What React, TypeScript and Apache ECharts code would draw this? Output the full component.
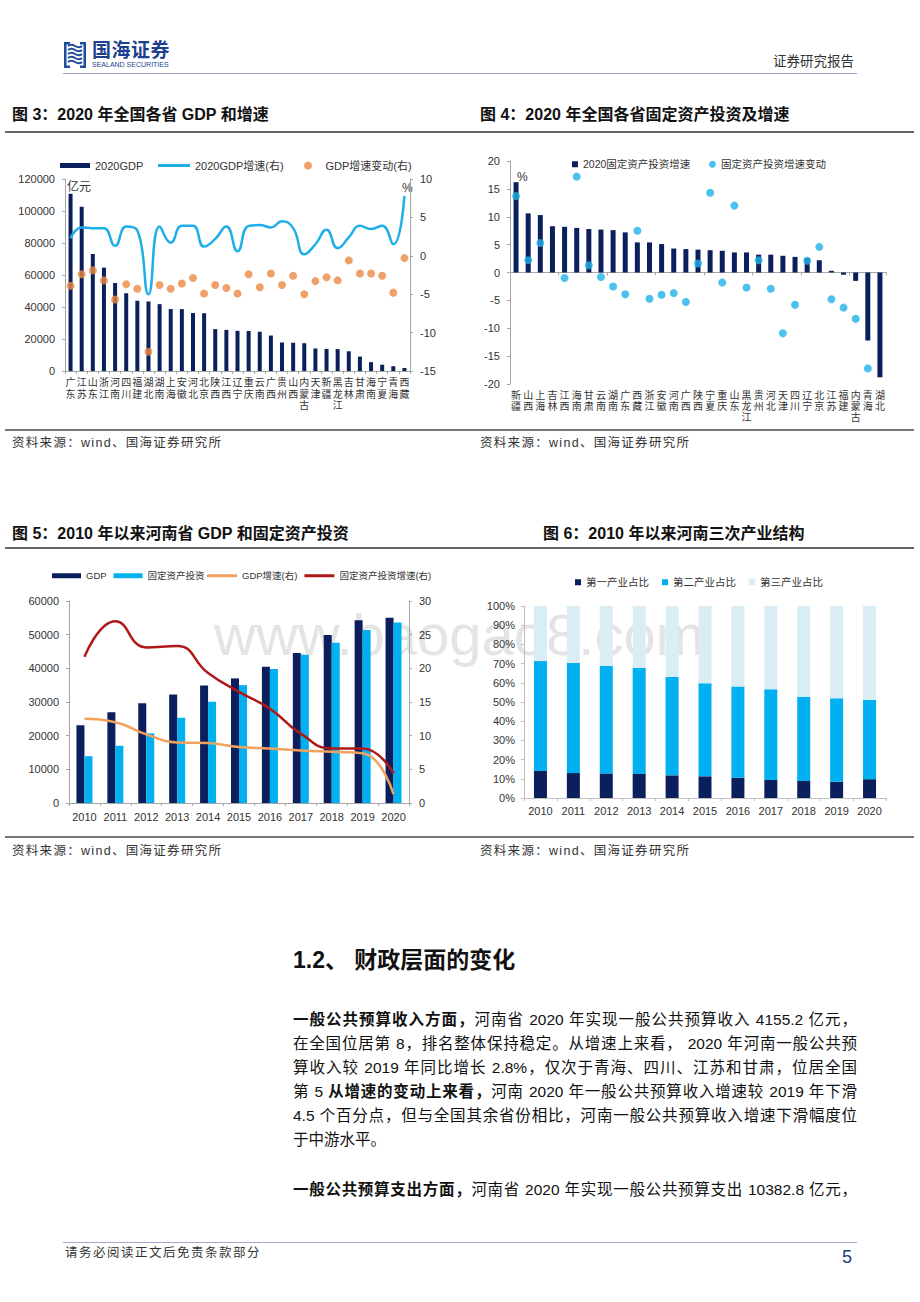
import React, { useEffect, useRef } from "react";
import * as echarts from "echarts";

const FONT = '"Liberation Sans", "Noto Sans CJK SC", sans-serif';
const NAVY = "#0b1f5c";
const AXIS = "#a6a6a6";
const LABEL = "#333333";

// ---------- Fig 3 ----------
const provinces3 = ["广东", "江苏", "山东", "浙江", "河南", "四川", "福建", "湖北", "湖南", "上海", "安徽", "河北", "北京", "陕西", "江西", "辽宁", "重庆", "云南", "广西", "贵州", "山西", "内蒙古", "天津", "新疆", "黑龙江", "吉林", "甘肃", "海南", "宁夏", "青海", "西藏"];
const gdp2020 = [110761, 102719, 73129, 64613, 54997, 48599, 43904, 43443, 41781, 38701, 38681, 36207, 36103, 26182, 25692, 25115, 25003, 24522, 22157, 17827, 17652, 17360, 14084, 13798, 13698, 12311, 9017, 5532, 3921, 3006, 1903];
const gdpGrowth2020 = [2.3, 3.7, 3.6, 3.6, 1.3, 3.8, 3.3, -5.0, 3.8, 1.7, 3.9, 3.9, 1.2, 2.2, 3.8, 0.6, 3.9, 4.0, 3.7, 4.5, 3.6, 0.2, 1.5, 3.4, 1.0, 2.4, 3.9, 3.5, 3.9, 1.5, 7.8];
const gdpGrowthChange = [-3.9, -2.4, -1.9, -3.2, -5.7, -3.7, -4.3, -12.5, -3.8, -4.3, -3.6, -2.9, -4.9, -3.8, -4.2, -4.9, -2.4, -4.1, -2.3, -3.8, -2.6, -5.0, -3.3, -2.8, -3.2, -0.6, -2.3, -2.3, -2.6, -4.8, -0.3];

// ---------- Fig 4 ----------
const provinces4 = ["新疆", "山西", "上海", "吉林", "江西", "海南", "甘肃", "云南", "湖南", "广东", "西藏", "浙江", "安徽", "河南", "广西", "陕西", "宁夏", "重庆", "山东", "黑龙江", "贵州", "河北", "天津", "四川", "辽宁", "北京", "江苏", "福建", "内蒙古", "青海", "湖北"];
const faiGrowth2020 = [16.2, 10.6, 10.3, 8.3, 8.2, 8.0, 7.8, 7.7, 7.6, 7.2, 5.4, 5.4, 5.1, 4.3, 4.2, 4.1, 4.0, 3.9, 3.6, 3.6, 3.2, 3.2, 3.0, 2.8, 2.6, 2.2, 0.3, -0.4, -1.5, -12.2, -18.8];
const faiGrowthChange = [13.7, 2.2, 5.3, null, -1.0, 17.2, 1.3, -0.8, -2.5, -3.9, 7.5, -4.7, -4.0, -3.7, -5.3, 1.6, 14.3, -1.8, 12.0, -2.7, 2.2, -2.9, -10.9, -5.8, 2.1, 4.6, -4.8, -6.3, -8.3, -17.2, null];

// ---------- Fig 5 ----------
const years = ["2010", "2011", "2012", "2013", "2014", "2015", "2016", "2017", "2018", "2019", "2020"];
const henanGdp = [23092, 26931, 29599, 32191, 34938, 37002, 40472, 44553, 49936, 54259, 54997];
const henanFai = [13900, 17000, 20700, 25300, 30100, 35000, 39800, 44000, 47600, 51400, 53600];
const henanGdpGrowth = [12.5, 12.0, 10.2, 9.0, 8.9, 8.3, 8.1, 7.8, 7.6, 7.4, 1.3];
const henanFaiGrowth = [21.7, 27.0, 23.1, 23.3, 19.3, 16.5, 14.0, 10.3, 8.1, 8.1, 4.4];

// ---------- Fig 6 ----------
const primaryShare = [14.1, 13.0, 12.8, 12.5, 11.8, 11.3, 10.6, 9.4, 8.9, 8.5, 9.8];
const secondaryShare = [57.2, 57.3, 56.1, 55.3, 51.2, 48.5, 47.5, 47.3, 43.8, 43.5, 41.3];
const tertiaryShare = primaryShare.map((p, i) => +(100 - p - secondaryShare[i]).toFixed(1));

const vert = (v: string) => v.split("").join("\n");
const plain = (v: number) => String(v);

function EChart({ option, style }: { option: any; style: React.CSSProperties }) {
  const ref = useRef<HTMLDivElement>(null);
  useEffect(() => {
    const chart = echarts.init(ref.current!, null, { renderer: "svg" });
    chart.setOption(option);
    return () => chart.dispose();
  }, []);
  return <div ref={ref} style={{ position: "absolute", zIndex: 1, ...style }} />;
}

const axisLineStyle = { show: true, lineStyle: { color: AXIS, width: 1 } };
const tickStyle = { show: true, length: 3, lineStyle: { color: AXIS } };

const opt3 = {
  animation: false,
  textStyle: { fontFamily: FONT },
  grid: { left: 60, right: 50, top: 39, bottom: 57 },
  legend: [
    { left: 50, top: 15, icon: "rect", itemWidth: 30, itemHeight: 5, data: ["2020GDP"], textStyle: { fontSize: 11, color: LABEL } },
    { left: 148, top: 15, icon: "rect", itemWidth: 32, itemHeight: 3, data: ["2020GDP增速(右)"], textStyle: { fontSize: 11, color: LABEL } },
    { left: 294, top: 15, icon: "circle", itemWidth: 25, itemHeight: 8, data: ["GDP增速变动(右)"], textStyle: { fontSize: 11, color: LABEL } },
  ],
  xAxis: {
    type: "category",
    data: provinces3,
    axisLine: axisLineStyle,
    axisTick: tickStyle,
    axisLabel: { interval: 0, formatter: vert, fontSize: 10, lineHeight: 11.5, color: LABEL, margin: 6 },
  },
  yAxis: [
    { type: "value", min: 0, max: 120000, interval: 20000, splitLine: { show: false }, axisLine: axisLineStyle, axisTick: tickStyle, axisLabel: { fontSize: 11, color: LABEL, margin: 10, formatter: plain } },
    { type: "value", min: -15, max: 10, interval: 5, position: "right", splitLine: { show: false }, axisLine: axisLineStyle, axisTick: tickStyle, axisLabel: { fontSize: 11, color: LABEL, margin: 10 } },
  ],
  graphic: [
    { type: "text", left: 62, top: 41, style: { text: "亿元", fontSize: 12, fill: LABEL, fontFamily: FONT } },
    { type: "text", left: 397, top: 42, style: { text: "%", fontSize: 12, fill: LABEL, fontFamily: FONT } },
  ],
  series: [
    { name: "2020GDP", type: "bar", data: gdp2020, barWidth: 4, itemStyle: { color: NAVY } },
    { name: "2020GDP增速(右)", type: "line", yAxisIndex: 1, data: gdpGrowth2020, smooth: 0.5, symbol: "none", lineStyle: { color: "#1eaee8", width: 2.5 }, itemStyle: { color: "#1eaee8" } },
    { name: "GDP增速变动(右)", type: "scatter", yAxisIndex: 1, data: gdpGrowthChange, symbolSize: 8, itemStyle: { color: "#ec8a45" } },
  ],
};

const opt4 = {
  animation: false,
  textStyle: { fontFamily: FONT },
  grid: { left: 40, right: 29, top: 21, bottom: 46 },
  legend: [
    { left: 97, top: 14, icon: "rect", itemWidth: 6, itemHeight: 6, data: ["2020固定资产投资增速"], textStyle: { fontSize: 10.5, color: LABEL } },
    { left: 234, top: 14, icon: "circle", itemWidth: 7, itemHeight: 7, data: ["固定资产投资增速变动"], textStyle: { fontSize: 10.5, color: LABEL } },
  ],
  xAxis: [
    { type: "category", data: provinces4, axisLine: { show: true, onZero: true, lineStyle: { color: AXIS } }, axisTick: { show: true, length: 3, lineStyle: { color: AXIS } }, axisLabel: { show: false } },
    { type: "category", data: provinces4, position: "bottom", axisLine: { show: false, onZero: false }, axisTick: { show: false }, axisLabel: { interval: 0, formatter: vert, fontSize: 10, lineHeight: 11, color: LABEL, margin: 6 } },
  ],
  yAxis: { type: "value", min: -20, max: 20, interval: 5, splitLine: { show: false }, axisLine: axisLineStyle, axisTick: tickStyle, axisLabel: { fontSize: 11, color: LABEL, margin: 10 } },
  graphic: [{ type: "text", left: 47, top: 31, style: { text: "%", fontSize: 12, fill: LABEL, fontFamily: FONT } }],
  series: [
    { name: "2020固定资产投资增速", type: "bar", data: faiGrowth2020, barWidth: 5, itemStyle: { color: NAVY } },
    { name: "固定资产投资增速变动", type: "scatter", data: faiGrowthChange, symbolSize: 8, clip: true, itemStyle: { color: "#1fb1e8" } },
  ],
};

const opt5 = {
  animation: false,
  textStyle: { fontFamily: FONT },
  grid: { left: 64, right: 51, top: 51, bottom: 34 },
  legend: [
    { left: 42, top: 16, itemGap: 7, itemWidth: 29, itemHeight: 5, icon: "rect", data: ["GDP", "固定资产投资"], textStyle: { fontSize: 9.5, color: LABEL } },
    { left: 197, top: 16, itemGap: 7, itemWidth: 30, itemHeight: 3, icon: "rect", data: ["GDP增速(右)", "固定资产投资增速(右)"], textStyle: { fontSize: 9.5, color: LABEL } },
  ],
  xAxis: { type: "category", data: years, axisLine: axisLineStyle, axisTick: tickStyle, axisLabel: { interval: 0, fontSize: 11, color: LABEL, margin: 8 } },
  yAxis: [
    { type: "value", min: 0, max: 60000, interval: 10000, splitLine: { show: false }, axisLine: axisLineStyle, axisTick: tickStyle, axisLabel: { fontSize: 11, color: LABEL, margin: 10, formatter: plain } },
    { type: "value", min: 0, max: 30, interval: 5, position: "right", splitLine: { show: false }, axisLine: axisLineStyle, axisTick: tickStyle, axisLabel: { fontSize: 11, color: LABEL, margin: 10 } },
  ],
  series: [
    { name: "GDP", type: "bar", data: henanGdp, barWidth: 8, barGap: "0%", itemStyle: { color: NAVY } },
    { name: "固定资产投资", type: "bar", data: henanFai, barWidth: 8, barGap: "0%", itemStyle: { color: "#00b0f0" } },
    { name: "GDP增速(右)", type: "line", yAxisIndex: 1, data: henanGdpGrowth, smooth: 0.5, symbol: "none", lineStyle: { color: "#f2a25e", width: 2.5 }, itemStyle: { color: "#f2a25e" } },
    { name: "固定资产投资增速(右)", type: "line", yAxisIndex: 1, data: henanFaiGrowth, smooth: 0.5, symbol: "none", lineStyle: { color: "#b01818", width: 2.5 }, itemStyle: { color: "#b01818" } },
  ],
};

const opt6 = {
  animation: false,
  textStyle: { fontFamily: FONT },
  grid: { left: 54, right: 29, top: 56, bottom: 39 },
  legend: { left: 100, top: 22, itemGap: 13, icon: "rect", itemWidth: 6, itemHeight: 6, textStyle: { fontSize: 10.5, color: LABEL }, data: ["第一产业占比", "第二产业占比", "第三产业占比"] },
  xAxis: { type: "category", data: years, axisLine: { show: true, lineStyle: { color: "#bfbfbf" } }, axisTick: { show: true, length: 3, lineStyle: { color: "#bfbfbf" } }, axisLabel: { interval: 0, fontSize: 11, color: LABEL, margin: 7 } },
  yAxis: { type: "value", min: 0, max: 100, interval: 10, splitLine: { show: false }, axisLine: { show: true, lineStyle: { color: "#bfbfbf" } }, axisTick: { show: true, length: 3, lineStyle: { color: "#bfbfbf" } }, axisLabel: { fontSize: 11, color: LABEL, margin: 9, formatter: "{value}%" } },
  series: [
    { name: "第一产业占比", type: "bar", stack: "s", data: primaryShare, barWidth: 13, itemStyle: { color: NAVY } },
    { name: "第二产业占比", type: "bar", stack: "s", data: secondaryShare, barWidth: 13, itemStyle: { color: "#00b0f0" } },
    { name: "第三产业占比", type: "bar", stack: "s", data: tertiaryShare, barWidth: 13, itemStyle: { color: "#daedf4" } },
  ],
};

const abs = (left: number, top: number, extra: React.CSSProperties = {}): React.CSSProperties => ({ position: "absolute", left, top, whiteSpace: "nowrap", ...extra });

function HLine({ x1, x2, y, color, w = 1 }: { x1: number; x2: number; y: number; color: string; w?: number }) {
  return <div style={{ position: "absolute", left: x1, top: y - w / 2, width: x2 - x1, height: w, background: color }} />;
}

const titleStyle: React.CSSProperties = { fontFamily: FONT, fontWeight: 700, fontSize: 16, lineHeight: "20px", color: "#111" };
const srcStyle: React.CSSProperties = { fontFamily: FONT, fontSize: 12.5, lineHeight: "16px", color: "#333", letterSpacing: 1.3 };
const bodyStyle: React.CSSProperties = { fontFamily: FONT, fontSize: 15.5, lineHeight: "24px", color: "#111", width: 564, textAlign: "justify", textAlignLast: "justify" as any };

function Logo() {
  return (
    <svg width="24" height="28" viewBox="0 0 24 28" style={{ position: "absolute", left: 63, top: 41 }}>
      <path d="M1 1 H7 V3.5 H3.5 V24.5 H7 V27 H1 Z" fill="#1e4d9b" />
      <path d="M23 1 H17 V3.5 H20.5 V24.5 H17 V27 H23 Z" fill="#1e4d9b" />
      {[5, 9, 13, 17, 21].map((y) => (
        <path key={y} d={`M5 ${y} Q8 ${y - 2.5} 12 ${y} T19 ${y}`} stroke="#1e4d9b" strokeWidth="2" fill="none" />
      ))}
    </svg>
  );
}

export default function App() {
  return (
    <div style={{ position: "absolute", left: 0, top: 0, width: 920, height: 1302, background: "#fff", overflow: "hidden", fontFamily: FONT }}>
      {/* header */}
      <Logo />
      <div style={abs(92, 40, { fontFamily: FONT, fontWeight: 700, fontSize: 19, lineHeight: "22px", color: "#1e3f8f", letterSpacing: 0.5 })}>国海证券</div>
      <div style={abs(92, 60, { fontFamily: FONT, fontSize: 7, lineHeight: "9px", color: "#1e3f8f" })}>SEALAND SECURITIES</div>
      <div style={abs(773, 53, { fontFamily: FONT, fontSize: 13.5, lineHeight: "18px", color: "#333" })}>证券研究报告</div>
      <HLine x1={63} x2={857} y={73} color="#9c9cc6" />

      {/* figure titles row 1 */}
      <div style={abs(12, 105, titleStyle)}>图 3：2020 年全国各省 GDP 和增速</div>
      <div style={abs(480, 105, titleStyle)}>图 4：2020 年全国各省固定资产投资及增速</div>
      <HLine x1={5} x2={914} y={132} color="#666" w={2} />
      <HLine x1={5} x2={914} y={430} color="#777" w={1.5} />
      <div style={abs(12, 435, srcStyle)}>资料来源：wind、国海证券研究所</div>
      <div style={abs(480, 435, srcStyle)}>资料来源：wind、国海证券研究所</div>

      {/* figure titles row 2 */}
      <div style={abs(12, 524, titleStyle)}>图 5：2010 年以来河南省 GDP 和固定资产投资</div>
      <div style={abs(543, 524, titleStyle)}>图 6：2010 年以来河南三次产业结构</div>
      <HLine x1={5} x2={914} y={548} color="#666" w={2} />
      <HLine x1={5} x2={914} y={837} color="#777" w={1.5} />
      <div style={abs(12, 843, srcStyle)}>资料来源：wind、国海证券研究所</div>
      <div style={abs(480, 843, srcStyle)}>资料来源：wind、国海证券研究所</div>

      {/* watermark */}
      <div style={abs(214, 606, { fontFamily: '"Liberation Sans", sans-serif', fontSize: 58, lineHeight: "58px", color: "#e4e4e4", zIndex: 0 })}>www.baogao8.com</div>

      {/* charts */}
      <EChart option={opt3} style={{ left: 5, top: 140, width: 455, height: 288 }} />
      <EChart option={opt4} style={{ left: 470, top: 140, width: 445, height: 290 }} />
      <EChart option={opt5} style={{ left: 5, top: 550, width: 455, height: 287 }} />
      <EChart option={opt6} style={{ left: 470, top: 550, width: 445, height: 287 }} />

      {/* section text */}
      <div style={abs(293, 945, { fontFamily: FONT, fontWeight: 700, fontSize: 23, lineHeight: "30px", color: "#111" })}>1.2、 财政层面的变化</div>
      <div style={{ position: "absolute", left: 293, top: 1008, ...bodyStyle }}>
        <b>一般公共预算收入方面，</b>河南省 2020 年实现一般公共预算收入 4155.2 亿元，
      </div>
      <div style={{ position: "absolute", left: 293, top: 1032, ...bodyStyle }}>在全国位居第 8，排名整体保持稳定。从增速上来看， 2020 年河南一般公共预</div>
      <div style={{ position: "absolute", left: 293, top: 1056, ...bodyStyle }}>算收入较 2019 年同比增长 2.8%，仅次于青海、四川、江苏和甘肃，位居全国</div>
      <div style={{ position: "absolute", left: 293, top: 1080, ...bodyStyle }}>
        第 5 <b>从增速的变动上来看，</b>河南 2020 年一般公共预算收入增速较 2019 年下滑
      </div>
      <div style={{ position: "absolute", left: 293, top: 1104, ...bodyStyle }}>4.5 个百分点，但与全国其余省份相比，河南一般公共预算收入增速下滑幅度位</div>
      <div style={{ position: "absolute", left: 293, top: 1128, ...bodyStyle, textAlign: "left", textAlignLast: "left" as any }}>于中游水平。</div>
      <div style={{ position: "absolute", left: 293, top: 1178, ...bodyStyle }}>
        <b>一般公共预算支出方面，</b>河南省 2020 年实现一般公共预算支出 10382.8 亿元，
      </div>

      {/* footer */}
      <HLine x1={63} x2={857} y={1242} color="#a8a8cc" />
      <div style={abs(65, 1245, { ...srcStyle, letterSpacing: 1.5 })}>请务必阅读正文后免责条款部分</div>
      <div style={abs(842, 1246, { fontFamily: FONT, fontSize: 18, lineHeight: "22px", color: "#203a80" })}>5</div>
    </div>
  );
}
